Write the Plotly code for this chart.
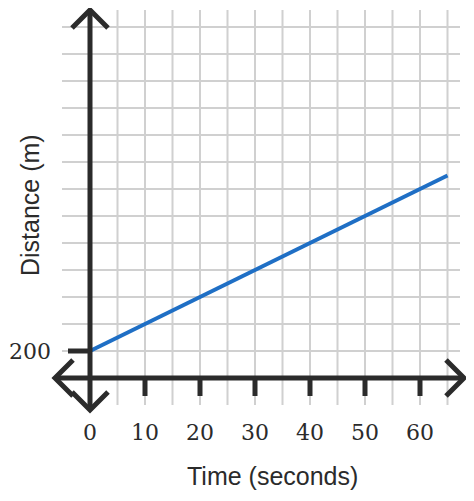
import plotly.graph_objects as go

time_s = [0, 65]
distance_m = [200, 850]
x_tick_vals = [0, 10, 20, 30, 40, 50, 60]
x_tick_labels = ["0", "10", "20", "30", "40", "50", "60"]
y_label_val = 200

OFF = 8  # page body margin
W, H = 474 - 2 * OFF, 501 - 2 * OFF
def X(px): return (px - 90) / 5.5
def Y(py): return 100 + (378 - py) / 27 * 100

dark = "#2b2b2b"
shapes = []
for gx in range(5, 70, 5):
    shapes.append(dict(type="line", x0=gx, x1=gx, y0=Y(405), y1=Y(10), line=dict(color="#d0d0d0", width=2), layer="below"))
for k in range(1, 14):
    gy = 100 + 100 * k
    shapes.append(dict(type="line", x0=X(62), x1=X(460), y0=gy, y1=gy, line=dict(color="#d0d0d0", width=2), layer="below"))
shapes.append(dict(type="line", x0=X(55), x1=X(464), y0=Y(378), y1=Y(378), line=dict(color=dark, width=5)))
shapes.append(dict(type="line", x0=0, x1=0, y0=Y(410), y1=Y(10), line=dict(color=dark, width=5)))
def chev(tx, ty, ax, ay, bx, by):
    shapes.append(dict(type="path", path=f"M {X(ax)} {Y(ay)} L {X(tx)} {Y(ty)} L {X(bx)} {Y(by)}", line=dict(color=dark, width=5)))
chev(90, 10, 72, 28, 108, 28)
chev(90, 410, 72, 392, 108, 392)
chev(55, 378, 73, 360, 73, 396)
chev(464, 378, 446, 360, 446, 396)
for t in x_tick_vals[1:]:
    shapes.append(dict(type="line", x0=t, x1=t, y0=Y(378), y1=Y(396), line=dict(color=dark, width=5)))
shapes.append(dict(type="line", x0=X(68), x1=0, y0=y_label_val, y1=y_label_val, line=dict(color=dark, width=5)))

fig = go.Figure()
fig.add_trace(go.Scatter(x=time_s, y=distance_m, mode="lines", line=dict(color="#1f6fc5", width=4), hoverinfo="skip"))

serif = dict(family="DejaVu Serif", size=22, color=dark)
ann = []
for v, lab in zip(x_tick_vals, x_tick_labels):
    ann.append(dict(x=v, y=Y(432), text=lab, showarrow=False, font=serif))
ann.append(dict(x=X(30), y=y_label_val, text=str(y_label_val), showarrow=False, font=serif))
ann.append(dict(x=X(272), y=Y(476), text="Time (seconds)", showarrow=False, font=dict(family="Liberation Sans", size=25, color=dark)))
ann.append(dict(x=X(30), y=Y(205), text="Distance (m)", textangle=-90, showarrow=False, font=dict(family="Liberation Sans", size=25, color=dark)))

fig.update_layout(
    width=W, height=H, margin=dict(l=0, r=0, t=0, b=0),
    plot_bgcolor="white", paper_bgcolor="white", showlegend=False,
    xaxis=dict(range=[X(OFF), X(OFF + W)], visible=False, fixedrange=True),
    yaxis=dict(range=[Y(OFF + H), Y(OFF)], visible=False, fixedrange=True),
    shapes=shapes, annotations=ann,
)
fig.write_html("out.html", config={"displayModeBar": False})
